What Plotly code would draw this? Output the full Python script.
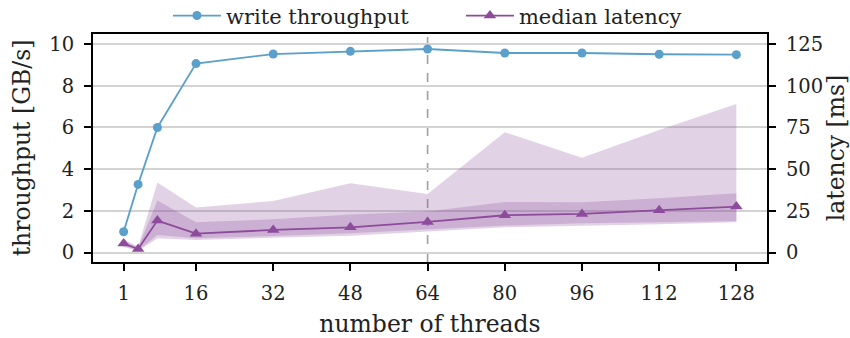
import plotly.graph_objects as go

# thread counts and measurements
threads = [1, 4, 8, 16, 32, 48, 64, 80, 96, 112, 128]
throughput_gbs = [1.0, 3.27, 6.0, 9.06, 9.52, 9.65, 9.76, 9.57, 9.57, 9.51, 9.49]
latency_median_ms = [5.5, 2.2, 19.2, 11.4, 13.6, 15.2, 18.4, 22.4, 23.2, 25.4, 27.6]
# latency spread: wide band (outer) and narrow band (inner)
latency_outer_hi = [8.0, 3.5, 42.0, 27.0, 31.0, 41.6, 35.2, 72.1, 56.9, 73.5, 89.1]
latency_outer_lo = [3.5, 1.0, 8.6, 7.6, 9.0, 10.2, 12.6, 15.2, 16.0, 17.0, 18.2]
latency_inner_hi = [7.0, 3.0, 31.2, 18.2, 20.0, 22.8, 24.6, 30.4, 30.2, 32.6, 35.6]
latency_inner_lo = [4.0, 1.5, 10.6, 8.6, 10.0, 11.6, 14.0, 16.2, 17.6, 18.2, 19.0]

x_ticks = [1, 16, 32, 48, 64, 80, 96, 112, 128]
y_ticks = [0, 2, 4, 6, 8, 10]
y2_ticks = [0, 25, 50, 75, 100, 125]
marker_line_x = 64

BLUE = "#5b9fcb"
PURPLE = "#8d4b9c"
BAND = "rgba(141,75,156,0.25)"
FONT = "DejaVu Serif"

fig = go.Figure()

for hi, lo in [(latency_outer_hi, latency_outer_lo), (latency_inner_hi, latency_inner_lo)]:
    fig.add_trace(go.Scatter(
        x=threads + threads[::-1], y=hi + lo[::-1],
        fill="toself", fillcolor=BAND, line=dict(width=0),
        mode="lines", hoverinfo="skip", showlegend=False, yaxis="y2",
    ))

fig.add_trace(go.Scatter(
    x=threads, y=throughput_gbs, name="write throughput",
    mode="lines+markers", line=dict(color=BLUE, width=1.8),
    marker=dict(symbol="circle", size=9, color=BLUE), yaxis="y",
))
fig.add_trace(go.Scatter(
    x=threads, y=latency_median_ms, name="median latency",
    mode="lines+markers", line=dict(color=PURPLE, width=1.8),
    marker=dict(symbol="triangle-up", size=11, color=PURPLE), yaxis="y2",
))

fig.add_shape(type="line", xref="x", yref="paper", x0=marker_line_x, x1=marker_line_x,
              y0=0, y1=1, line=dict(color="#a0a0a0", width=1.6, dash="dash"), layer="below")

axis_common = dict(
    showline=True, linecolor="black", linewidth=2,
    ticks="outside", ticklen=7, tickwidth=1.5, tickcolor="black",
    tickfont=dict(family=FONT, size=19.5, color="#222"),
    zeroline=False, automargin=False,
)

fig.update_layout(
    width=850, height=338,
    margin=dict(l=93, r=83, t=34, b=76, autoexpand=False),
    paper_bgcolor="white", plot_bgcolor="white",
    font=dict(family=FONT, color="#222"),
    xaxis=dict(
        range=[-5.35, 134.35], tickvals=x_ticks, mirror=True, showgrid=False,
        ticklabelstandoff=6,
        title=dict(text="number of threads", font=dict(family=FONT, size=23.5), standoff=14),
        **axis_common,
    ),
    yaxis=dict(
        range=[-0.45, 10.48], tickvals=y_ticks, showgrid=True,
        gridcolor="#d3d3d3", gridwidth=1.6, ticklabelstandoff=6,
        title=dict(text="throughput [GB/s]", font=dict(family=FONT, size=23.5), standoff=12),
        **axis_common,
    ),
    yaxis2=dict(
        range=[-5.6, 131.0], tickvals=y2_ticks, overlaying="y", side="right",
        showgrid=False, ticklabelstandoff=6,
        title=dict(text="latency [ms]", font=dict(family=FONT, size=23.5), standoff=12),
        **axis_common,
    ),
    legend=dict(
        orientation="h", xref="container", x=0.1976, xanchor="left",
        yref="container", y=0.953, yanchor="middle",
        font=dict(family=FONT, size=21), bgcolor="rgba(0,0,0,0)",
        itemwidth=48, entrywidth=230,
    ),
    showlegend=True,
)

fig.write_html("out.html")
